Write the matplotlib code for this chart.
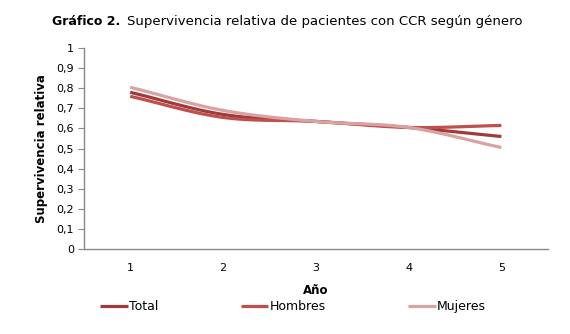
import numpy as np
import matplotlib
matplotlib.use("Agg")
import matplotlib.pyplot as plt

years = [1, 2, 3, 4, 5]
total = [0.78, 0.67, 0.635, 0.605, 0.56]
hombres = [0.76, 0.655, 0.635, 0.605, 0.615]
mujeres = [0.805, 0.69, 0.635, 0.605, 0.505]
series_names = ["Total", "Hombres", "Mujeres"]
y_ticks = [0, 0.1, 0.2, 0.3, 0.4, 0.5, 0.6, 0.7, 0.8, 0.9, 1]
y_tick_labels = ["0", "0,1", "0,2", "0,3", "0,4", "0,5", "0,6", "0,7", "0,8", "0,9", "1"]

colors = ["#9E3B3B", "#C0504D", "#D9A3A3"]


def smooth(x, y, n=30):
    # Catmull-Rom style smoothing (like Excel "smoothed line")
    x = np.asarray(x, float)
    y = np.asarray(y, float)
    px = np.concatenate([[2 * x[0] - x[1]], x, [2 * x[-1] - x[-2]]])
    py = np.concatenate([[2 * y[0] - y[1]], y, [2 * y[-1] - y[-2]]])
    xs, ys = [], []
    t = np.linspace(0, 1, n)
    for i in range(1, len(px) - 2):
        p0, p1, p2, p3 = (np.array([px[j], py[j]]) for j in range(i - 1, i + 3))
        for tt in t:
            pt = 0.5 * ((2 * p1) + (-p0 + p2) * tt + (2 * p0 - 5 * p1 + 4 * p2 - p3) * tt ** 2
                        + (-p0 + 3 * p1 - 3 * p2 + p3) * tt ** 3)
            xs.append(pt[0])
            ys.append(pt[1])
    return xs, ys


fig = plt.figure(figsize=(5.7, 3.34), dpi=100)
ax = fig.add_axes([0.147, 0.2545, 0.814, 0.6015])

handles = []
for vals, c, name in zip([total, hombres, mujeres], colors, series_names):
    sx, sy = smooth(years, vals)
    h, = ax.plot(sx, sy, color=c, lw=2.3, solid_capstyle="butt", label=name)
    handles.append(h)

ax.set_xlim(0.5, 5.5)
ax.set_ylim(0, 1)
ax.set_xticks(years)
ax.set_xticklabels([str(y) for y in years], fontsize=8)
ax.set_yticks(y_ticks)
ax.set_yticklabels(y_tick_labels, fontsize=8)
ax.tick_params(axis="x", length=0, pad=10)
ax.tick_params(axis="y", length=4, width=0.8, color="#888888", pad=3)
for s in ["top", "right"]:
    ax.spines[s].set_visible(False)
for s in ["left", "bottom"]:
    ax.spines[s].set_color("#888888")
    ax.spines[s].set_linewidth(1.0)

ax.set_xlabel("Año", fontsize=8.5, fontweight="bold", labelpad=8)
ax.set_ylabel("Supervivencia relativa", fontsize=8.5, fontweight="bold", labelpad=6)

fig.text(0.091, 0.935, "Gráfico 2.", fontsize=9, fontweight="bold", ha="left", va="center")
fig.text(0.222, 0.935, "Supervivencia relativa de pacientes con CCR según género",
         fontsize=9.5, ha="left", va="center")

fig.legend(handles=handles, labels=series_names, loc="center left",
           bbox_to_anchor=(0.165, 0.081), ncol=3, frameon=False, fontsize=9,
           handlelength=2.2, handletextpad=0.1, columnspacing=6.6, borderpad=0)

fig.savefig("out.png", dpi=100)
